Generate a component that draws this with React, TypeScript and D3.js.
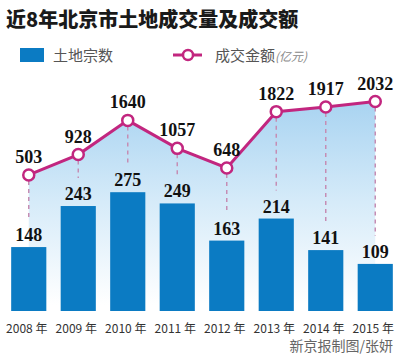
import React from "react";
import * as d3 from "d3";

const years = ["2008", "2009", "2010", "2011", "2012", "2013", "2014", "2015"];
const landCounts = [148, 243, 275, 249, 163, 214, 141, 109];
const dealAmounts = [503, 928, 1640, 1057, 648, 1822, 1917, 2032];
const title = "近8年北京市土地成交量及成交额";
const legendBar = "土地宗数";
const legendLine = "成交金额";
const legendUnit = "(亿元)";
const credit = "新京报制图/张妍";

const W = 400;
const H = 357;
const BASE = 311;
const CJK = "'Noto Sans CJK SC', 'Noto Sans', sans-serif";
const NUM = "'Liberation Serif', 'DejaVu Serif', serif";
const MAGENTA = "#c2267f";
const BLUE = "#0b7bc3";

export default function App() {
  const x = d3
    .scaleBand<string>()
    .domain(years)
    .range([4, 400])
    .paddingInner(0.29)
    .paddingOuter(0.145);
  const yBar = d3.scaleLinear().domain([0, 300]).range([BASE, BASE - 129.6]);
  const yLine = d3.scaleLinear().domain([0, 2000]).range([199.1, 103.1]);
  const cx = (i: number) => (x(years[i]) as number) + x.bandwidth() / 2;

  const pts = dealAmounts.map((v, i) => [cx(i), yLine(v)] as [number, number]);
  const line = d3.line<[number, number]>().x((d) => d[0]).y((d) => d[1]);
  const area = d3
    .area<[number, number]>()
    .x((d) => d[0])
    .y0(BASE)
    .y1((d) => d[1]);

  return (
    <svg width={W} height={H} style={{ position: "absolute", left: 0, top: 0, background: "#fff" }}>
      <defs>
        <linearGradient id="fillGrad" gradientUnits="userSpaceOnUse" x1="0" y1="100" x2="0" y2="305">
          <stop offset="0" stopColor="#a8d3f1" />
          <stop offset="0.5" stopColor="#d6ebf9" />
          <stop offset="1" stopColor="#ffffff" />
        </linearGradient>
      </defs>
      <rect x={0} y={0} width={W} height={H} fill="#fff" />
      <text x={6} y={27} fontFamily={CJK} fontWeight={900} fontSize={20} fill="#1a1a1a">
        {title}
      </text>
      {/* legend */}
      <rect x={20} y={48} width={24} height={14} fill={BLUE} />
      <text x={53} y={61} fontFamily={CJK} fontSize={15} fill="#555">
        {legendBar}
      </text>
      <line x1={173} x2={202} y1={55} y2={55} stroke={MAGENTA} strokeWidth={3} />
      <circle cx={188} cy={55} r={5} fill="#fff" stroke={MAGENTA} strokeWidth={2.5} />
      <text x={215} y={61} fontFamily={CJK} fontSize={15} fill="#555">
        {legendLine}
        <tspan fontSize={12} fontStyle="italic" fill="#888">{legendUnit}</tspan>
      </text>

      <path d={area(pts) as string} fill="url(#fillGrad)" />

      {/* dashed drops */}
      {dealAmounts.map((v, i) => (
        <line
          key={"d" + i}
          x1={cx(i)}
          x2={cx(i)}
          y1={yLine(v) + 6}
          y2={yBar(landCounts[i]) - 28}
          stroke="#c58db4"
          strokeWidth={1.5}
          strokeDasharray="4,4"
        />
      ))}

      {/* bars */}
      {landCounts.map((v, i) => (
        <rect
          key={"b" + i}
          x={x(years[i])}
          y={yBar(v)}
          width={x.bandwidth()}
          height={BASE - yBar(v)}
          fill={BLUE}
        />
      ))}
      {landCounts.map((v, i) => (
        <text
          key={"bl" + i}
          x={cx(i)}
          y={yBar(v) - 6}
          textAnchor="middle"
          fontFamily={NUM}
          fontWeight="bold"
          fontSize={18}
          fill="#111"
        >
          {v}
        </text>
      ))}

      {/* line */}
      <path d={line(pts) as string} fill="none" stroke={MAGENTA} strokeWidth={3} />
      {pts.map((p, i) => (
        <circle key={"c" + i} cx={p[0]} cy={p[1]} r={5.5} fill="#fff" stroke={MAGENTA} strokeWidth={2.5} />
      ))}
      {pts.map((p, i) => (
        <text
          key={"ll" + i}
          x={p[0]}
          y={p[1] - 12}
          textAnchor="middle"
          fontFamily={NUM}
          fontWeight="bold"
          fontSize={18}
          fill="#111"
        >
          {dealAmounts[i]}
        </text>
      ))}

      {/* x axis labels */}
      {years.map((yr, i) => (
        <text
          key={"x" + i}
          x={cx(i) - 2}
          y={333}
          textAnchor="middle"
          fontFamily={CJK}
          fontSize={12}
          fill="#333"
        >
          {yr + " 年"}
        </text>
      ))}
      <text x={393} y={351} textAnchor="end" fontFamily={CJK} fontSize={14} fill="#666">
        {credit}
      </text>
    </svg>
  );
}
